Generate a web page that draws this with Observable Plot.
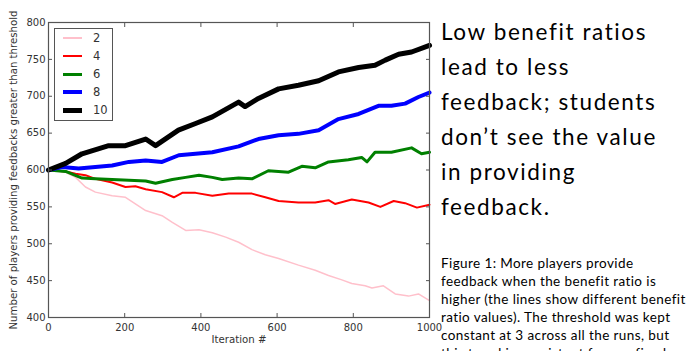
<!DOCTYPE html>
<html><head><meta charset="utf-8">
<script src="https://cdn.jsdelivr.net/npm/d3@7"></script>
<script src="https://cdn.jsdelivr.net/npm/@observablehq/plot@0.6"></script>
<style>
html,body{margin:0;padding:0;background:#fff}
body{width:688px;height:351px;overflow:hidden;position:relative;font-family:"DejaVu Sans",sans-serif}
#chart{position:absolute;left:0;top:0}
#legend{position:absolute;left:54px;top:28px;width:59px;height:93px;border:1px solid #555;box-sizing:border-box;background:#fff}
.lrow{position:absolute;left:0;height:18px;width:100%}
.lsw{position:absolute;left:8px;width:19px;top:50%}
.llab{position:absolute;left:38px;top:0;line-height:18px;font-size:11.5px;color:#333}
#headline{position:absolute;left:441px;top:14px;font-family:Lato,sans-serif;font-size:22.5px;letter-spacing:1.6px;line-height:35px;color:#000;white-space:nowrap;font-variant-ligatures:none}
#caption{position:absolute;left:441px;top:254px;font-family:Lato,sans-serif;font-size:13.5px;letter-spacing:0.4px;line-height:18px;color:#000;white-space:nowrap;font-variant-ligatures:none}
</style>
</head><body>
<div id="chart"></div>
<div id="legend"></div>
<div id="headline"></div>
<div id="caption"></div>
<script>
// ---- data ----
const seriesNames = ["2", "4", "6", "8", "10"];
const seriesColors = ["#ffc0cb", "#ff0000", "#008000", "#0000ff", "#000000"];
const seriesWidths = [1.5, 2, 3, 4, 5];
const xTicks = [0, 200, 400, 600, 800, 1000];
const yTicks = [400, 450, 500, 550, 600, 650, 700, 750, 800];
const xLabel = "Iteration #";
const yLabel = "Number of players providing feedbacks greater than threshold";

const iter2 = [0, 45, 71, 97, 123, 167, 202, 228, 255, 298, 325, 360, 395, 430, 465, 499, 534, 569, 604, 656, 700, 735, 770, 796, 831, 849, 879, 910, 945, 971, 1000];
const fb2   = [600, 597, 590, 577, 570, 565, 563, 554, 545, 538, 529, 518, 519, 515, 509, 502, 492, 485, 480, 471, 464, 457, 451, 446, 443, 440, 443, 432, 429, 432, 423];

const iter4 = [0, 45, 71, 97, 123, 167, 202, 228, 255, 298, 329, 351, 386, 430, 473, 534, 569, 604, 656, 700, 735, 752, 796, 840, 871, 906, 936, 967, 1000];
const fb4   = [600, 598, 595, 593, 588, 583, 577, 578, 574, 570, 563, 569, 569, 565, 568, 568, 563, 558, 556, 556, 559, 554, 560, 556, 550, 558, 555, 549, 553];

const iter6 = [0, 45, 88, 123, 167, 211, 255, 281, 325, 360, 395, 430, 456, 499, 534, 577, 630, 665, 700, 735, 787, 822, 836, 857, 900, 953, 979, 1000];
const fb6   = [600, 598, 589, 588, 587, 586, 585, 582, 587, 590, 593, 590, 587, 589, 588, 599, 597, 605, 603, 611, 614, 617, 611, 624, 624, 630, 622, 624];

const iter8 = [0, 36, 79, 123, 167, 211, 255, 298, 342, 386, 430, 499, 551, 604, 656, 709, 761, 814, 866, 900, 936, 971, 1000];
const fb8   = [600, 604, 602, 604, 606, 611, 613, 611, 620, 622, 624, 632, 642, 647, 649, 654, 669, 676, 687, 687, 690, 699, 705];

const iter10 = [0, 45, 88, 158, 202, 255, 281, 341, 386, 430, 499, 516, 551, 604, 656, 709, 761, 814, 857, 884, 919, 953, 1000];
const fb10   = [600, 609, 622, 633, 633, 642, 633, 654, 663, 672, 692, 686, 697, 710, 715, 721, 733, 739, 742, 749, 757, 760, 769];

const headlineLines = ["Low benefit ratios", "lead to less", "feedback; students", "don\u2019t see the value", "in providing", "feedback."];
const captionLines = ["Figure 1: More players provide", "feedback when the benefit ratio is", "higher (the lines show different benefit", "ratio values). The threshold was kept", "constant at 3 across all the runs, but", "this trend is consistent for any fixed"];

// ---- build ----
const iters = [iter2, iter4, iter6, iter8, iter10];
const fbs = [fb2, fb4, fb6, fb8, fb10];
const rows = seriesNames.flatMap((s, i) => iters[i].map((x, j) => ({series: s, x, y: fbs[i][j]})));

const ink = "#333";
const plot = Plot.plot({
  width: 440, height: 351,
  marginLeft: 48, marginRight: 11, marginTop: 22, marginBottom: 34,
  style: {fontFamily: "'DejaVu Sans', sans-serif", fontSize: "10px", color: ink, background: "transparent", overflow: "visible"},
  x: {domain: [0, 1000], label: null},
  y: {domain: [400, 800], label: null},
  marks: [
    ...seriesNames.map((s, i) => Plot.line(rows.filter(r => r.series === s), {
      x: "x", y: "y", stroke: seriesColors[i], strokeWidth: seriesWidths[i], strokeLinejoin: "round", strokeLinecap: "round"
    })),
    Plot.frame({stroke: "#555", strokeWidth: 1.2}),
    Plot.axisX({ticks: xTicks, tickFormat: d => String(d), tickSize: -4, tickPadding: 10, stroke: "#555", fill: ink, label: null}),
    Plot.axisX({anchor: "top", ticks: xTicks, tickSize: -4, stroke: "#555", fill: "none", label: null}),
    Plot.axisY({ticks: yTicks, tickFormat: d => String(d), tickSize: -4, tickPadding: 7, stroke: "#555", fill: ink, label: null}),
    Plot.axisY({anchor: "right", ticks: yTicks, tickSize: -4, stroke: "#555", fill: "none", label: null}),
    Plot.text([xLabel], {frameAnchor: "bottom", dy: 25, fontSize: 10.2, fill: ink}),
    Plot.text([yLabel], {frameAnchor: "left", textAnchor: "middle", rotate: -90, dx: -35, fontSize: 10.2, fill: ink})
  ]
});
document.getElementById("chart").appendChild(plot);

// legend
const leg = document.getElementById("legend");
seriesNames.forEach((s, i) => {
  const row = document.createElement("div");
  row.className = "lrow";
  row.style.top = (i * 18) + "px";
  const sw = document.createElement("div");
  sw.className = "lsw";
  sw.style.height = seriesWidths[i] + "px";
  sw.style.marginTop = (-seriesWidths[i] / 2) + "px";
  sw.style.background = seriesColors[i];
  const lab = document.createElement("div");
  lab.className = "llab";
  lab.textContent = s;
  row.appendChild(sw); row.appendChild(lab);
  leg.appendChild(row);
});

document.getElementById("headline").innerHTML = headlineLines.join("<br>");
document.getElementById("caption").innerHTML = captionLines.join("<br>");
</script>
</body></html>
